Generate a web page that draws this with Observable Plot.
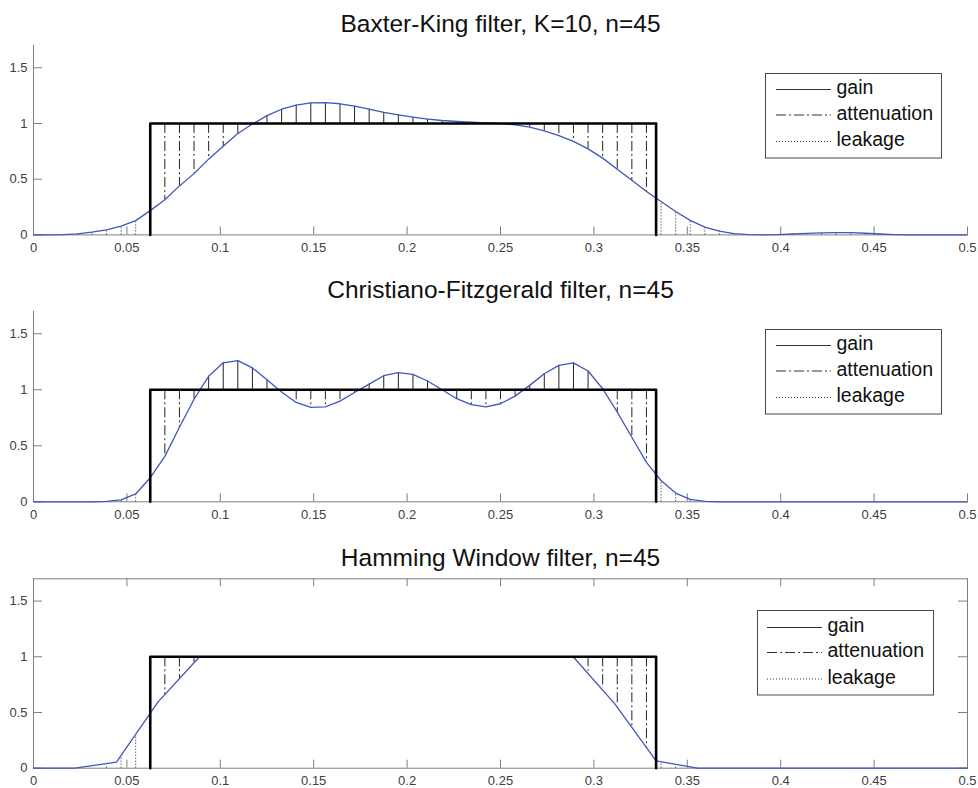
<!DOCTYPE html>
<html>
<head>
<meta charset="utf-8">
<script src="https://cdn.jsdelivr.net/npm/d3@7"></script>
<script src="https://cdn.jsdelivr.net/npm/@observablehq/plot@0.6"></script>
<style>
  body { margin: 0; background: #fff; }
  #root { position: relative; width: 978px; height: 788px; font-family: "Liberation Sans", Arial, Helvetica, sans-serif; overflow: hidden; }
  .panel { position: absolute; left: 0; }
  .legend { position: absolute; }
</style>
</head>
<body>
<div id="root"></div>
<script>
// ---------- data ----------
const titles = [
  "Baxter-King filter, K=10, n=45",
  "Christiano-Fitzgerald filter, n=45",
  "Hamming Window filter, n=45"
];
const xTicks = [0, 0.05, 0.1, 0.15, 0.2, 0.25, 0.3, 0.35, 0.4, 0.45, 0.5];
const xTickLabels = ["0", "0.05", "0.1", "0.15", "0.2", "0.25", "0.3", "0.35", "0.4", "0.45", "0.5"];
const yTicks = [0, 0.5, 1, 1.5];
const yTickLabels = ["0", "0.5", "1", "1.5"];
const band = [0.0625, 0.3333];       // ideal pass band (frequency)
const passLevel = 1, stopLevel = 0;  // ideal gain levels
const legendLabels = ["gain", "attenuation", "leakage"];

// frequency grid of the stems (k/128)
const gridFreq = d3.range(65).map(k => k / 128);

// Baxter-King gain on the grid
const bkGain = [
  0, 0, 0.002, 0.01, 0.025, 0.045, 0.078, 0.128, 0.218, 0.316,
  0.44, 0.55, 0.68, 0.795, 0.91, 0.995, 1.07, 1.128, 1.165, 1.185,
  1.188, 1.177, 1.155, 1.128, 1.1, 1.078, 1.057, 1.04, 1.027, 1.018,
  1.011, 1.005, 1.0, 0.988, 0.967, 0.934, 0.892, 0.84, 0.772, 0.689,
  0.59, 0.49, 0.39, 0.3, 0.21, 0.13, 0.07, 0.033, 0.012, 0.003,
  0, 0.002, 0.008, 0.014, 0.019, 0.021, 0.02, 0.015, 0.008, 0.003,
  0, 0, 0, 0, 0
];

// Christiano-Fitzgerald gain on the grid
const cfGain = [
  0, 0, 0, 0, 0, 0.003, 0.018, 0.07, 0.215, 0.405,
  0.665, 0.915, 1.12, 1.24, 1.26, 1.195, 1.09, 0.98, 0.887, 0.843,
  0.847, 0.898, 0.975, 1.05, 1.125, 1.153, 1.137, 1.078, 1.0, 0.92,
  0.868, 0.848, 0.875, 0.943, 1.039, 1.143, 1.218, 1.24, 1.167, 1.009,
  0.8, 0.576, 0.352, 0.19, 0.078, 0.022, 0.004, 0, 0, 0,
  0, 0, 0, 0, 0, 0, 0, 0, 0, 0,
  0, 0, 0, 0, 0
];

// Hamming window gain (curve, sampled at k/45)
const hammingFreq = [
  0, 0.0222, 0.0444, 0.0667, 0.0889, 0.1111, 0.1333, 0.1556, 0.1778, 0.2,
  0.2222, 0.2444, 0.2667, 0.2889, 0.3111, 0.3333, 0.3556, 0.3778, 0.4, 0.4222,
  0.4444, 0.4667, 0.4889, 0.5
];
const hammingGain = [
  0, 0, 0.054, 0.595, 1.0, 1.0, 1.0, 1.0, 1.0, 1.0,
  1.0, 1.0, 1.0, 1.0, 0.58, 0.065, 0, 0, 0, 0,
  0, 0, 0, 0
];
// Hamming window gain read on the stem grid
const hammingGridGain = [
  0, 0, 0, 0, 0, 0.02, 0.09, 0.29, 0.5, 0.66,
  0.806, 0.95, 1, 1, 1, 1, 1, 1, 1, 1,
  1, 1, 1, 1, 1, 1, 1, 1, 1, 1,
  1, 1, 1, 1, 1, 1, 1, 1, 0.87, 0.72,
  0.56, 0.37, 0.18, 0.055, 0.024, 0.005, 0, 0, 0, 0,
  0, 0, 0, 0, 0, 0, 0, 0, 0, 0,
  0, 0, 0, 0, 0
];

// ---------- layout / style ----------
const W = 978, mL = 33, mR = 11;
const axisColor = "#7f7f7f";
const labelColor = "#404040";
const curveColor = "#4256bb";
const stemColor = "#222";
const dashes = { gain: null, attenuation: "10,3,2,3", leakage: "1,2" };
const fontFamily = '"Liberation Sans", Arial, Helvetica, sans-serif';

const panels = [
  { title: titles[0], curveF: gridFreq, curveV: bkGain, stemV: bkGain, boxed: false,
    top: 0, height: 266, mT: 45, mB: 31.6, titleDy: -13.3,
    legend: { left: 765, top: 73, x1: 11, x2: 66, tx: 71.5, rows: [16.5, 42, 68.5] } },
  { title: titles[1], curveF: gridFreq, curveV: cfGain, stemV: cfGain, boxed: false,
    top: 266, height: 267, mT: 44.8, mB: 31.7, titleDy: -13.5,
    legend: { left: 765, top: 329.3, x1: 11, x2: 66, tx: 71.5, rows: [16.5, 42, 68.5] } },
  { title: titles[2], curveF: hammingFreq, curveV: hammingGain, stemV: hammingGridGain, boxed: true,
    top: 533, height: 255, mT: 45.3, mB: 20.3, titleDy: -13.3,
    legend: { left: 756.7, top: 610, x1: 10, x2: 65, tx: 70.5, rows: [17.5, 42.5, 69] } }
];

const root = document.getElementById("root");

function makePanel(cfg) {
  const innerH = cfg.height - cfg.mT - cfg.mB;
  const innerW = W - mL - mR;
  const curve = cfg.curveF.map((f, i) => ({ f, v: cfg.curveV[i] }));
  const stems = gridFreq.map((f, i) => {
    const v = cfg.stemV[i];
    const inBand = f >= band[0] && f <= band[1];
    const ideal = inBand ? passLevel : stopLevel;
    const type = !inBand ? "leakage" : (v > ideal ? "gain" : "attenuation");
    return { f, v, ideal, type };
  }).filter(d => Math.abs(d.v - d.ideal) > 0.001);
  const box = [
    { f: band[0], v: stopLevel }, { f: band[0], v: passLevel },
    { f: band[1], v: passLevel }, { f: band[1], v: stopLevel }
  ];

  const marks = [];
  if (cfg.boxed) {
    marks.push(Plot.frame({ stroke: axisColor }));
    marks.push(Plot.tickX(xTicks, { x: d => d, stroke: axisColor, insetBottom: innerH - 8 }));
    marks.push(Plot.tickY(yTicks, { y: d => d, stroke: axisColor, insetLeft: innerW - 9 }));
  } else {
    marks.push(Plot.ruleX([0], { stroke: axisColor }));
    marks.push(Plot.ruleY([0], { stroke: axisColor }));
  }
  marks.push(Plot.tickX(xTicks, { x: d => d, stroke: axisColor, insetTop: innerH - 8 }));
  marks.push(Plot.tickY(yTicks, { y: d => d, stroke: axisColor, insetRight: innerW - 9 }));
  marks.push(Plot.axisX({
    ticks: xTicks, tickFormat: d => xTickLabels[xTicks.indexOf(d)],
    tickSize: 0, tickPadding: 7.5, fontSize: 13, color: labelColor, label: null
  }));
  marks.push(Plot.axisY({
    ticks: yTicks, tickFormat: d => yTickLabels[yTicks.indexOf(d)],
    tickSize: 0, tickPadding: 6, fontSize: 13, color: labelColor, label: null
  }));
  for (const type of legendLabels) {
    marks.push(Plot.ruleX(stems.filter(d => d.type === type), {
      x: "f", y1: "ideal", y2: "v", stroke: stemColor, strokeWidth: 1,
      strokeDasharray: dashes[type]
    }));
  }
  marks.push(Plot.line(curve, { x: "f", y: "v", stroke: curveColor, strokeWidth: 1.3 }));
  marks.push(Plot.line(box, { x: "f", y: "v", stroke: "#000", strokeWidth: 2.6 }));
  marks.push(Plot.text([cfg.title], {
    text: d => d, frameAnchor: "top", lineAnchor: "bottom", dy: cfg.titleDy,
    fontSize: 24.5, fill: "#111"
  }));

  const svg = Plot.plot({
    width: W, height: cfg.height,
    marginLeft: mL, marginRight: mR, marginTop: cfg.mT, marginBottom: cfg.mB,
    x: { domain: [0, 0.5] },
    y: { domain: [0, 1.7] },
    style: { fontFamily, background: "white", overflow: "visible" },
    marks
  });
  svg.classList.add("panel");
  svg.style.top = cfg.top + "px";
  root.appendChild(svg);
}

function makeLegend(cfg) {
  const L = cfg.legend;
  const svg = d3.create("svg")
    .attr("class", "legend")
    .attr("width", 177).attr("height", 86)
    .style("left", L.left + "px").style("top", L.top + "px");
  svg.append("rect").attr("x", 0.5).attr("y", 0.5).attr("width", 176).attr("height", 84.5)
    .attr("fill", "#fff").attr("stroke", "#4a4a4a").attr("stroke-width", 1);
  legendLabels.forEach((lab, i) => {
    const y = L.rows[i];
    svg.append("line").attr("x1", L.x1).attr("x2", L.x2).attr("y1", y).attr("y2", y)
      .attr("stroke", "#333").attr("stroke-width", 1.2)
      .attr("stroke-dasharray", dashes[lab]);
    svg.append("text").attr("x", L.tx).attr("y", y + 4.5)
      .attr("font-family", fontFamily).attr("font-size", 19.5).attr("fill", "#111")
      .text(lab);
  });
  root.appendChild(svg.node());
}

panels.forEach(makePanel);
panels.forEach(makeLegend);
</script>
</body>
</html>
